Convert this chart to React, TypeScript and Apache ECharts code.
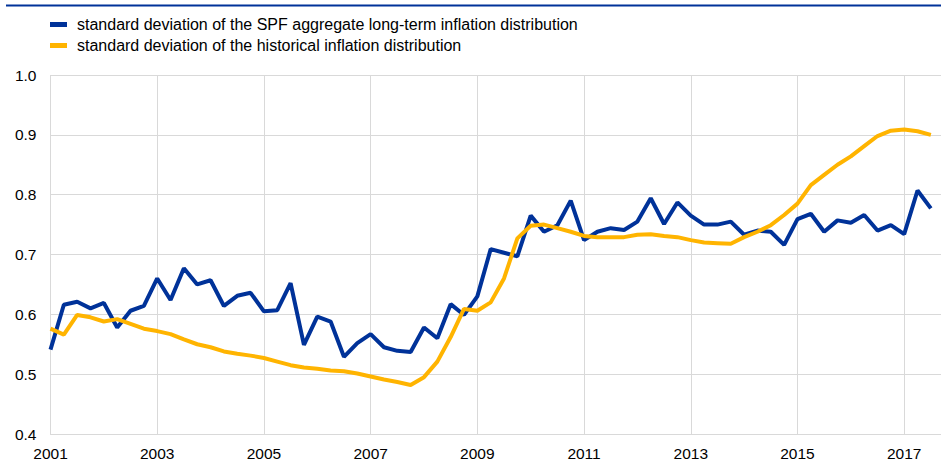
import React, { useEffect, useRef } from "react";
import * as echarts from "echarts";

const START_YEAR = 2001;
const N_QUARTERS = 67; // 2001Q1 .. 2017Q3
const quarters: string[] = [];
for (let i = 0; i < N_QUARTERS; i++) {
  quarters.push(`${START_YEAR + Math.floor(i / 4)}Q${(i % 4) + 1}`);
}

const spfStd = [
  0.541, 0.616, 0.621, 0.610, 0.619, 0.578, 0.606, 0.614,
  0.660, 0.624, 0.677, 0.650, 0.657, 0.614, 0.631, 0.636,
  0.605, 0.607, 0.652, 0.549, 0.596, 0.588, 0.529, 0.552,
  0.567, 0.545, 0.539, 0.537, 0.578, 0.560, 0.617, 0.599,
  0.630, 0.709, 0.703, 0.697, 0.765, 0.738, 0.749, 0.790,
  0.724, 0.738, 0.744, 0.741, 0.755, 0.794, 0.751, 0.787,
  0.765, 0.750, 0.750, 0.755, 0.733, 0.740, 0.738, 0.716,
  0.759, 0.768, 0.738, 0.757, 0.753, 0.766, 0.740, 0.749,
  0.734, 0.807, 0.777,
];

const histStd = [
  0.576, 0.566, 0.599, 0.595, 0.588, 0.592, 0.584, 0.576,
  0.572, 0.567, 0.558, 0.550, 0.545, 0.538, 0.534, 0.531,
  0.527, 0.521, 0.515, 0.511, 0.509, 0.506, 0.505, 0.501,
  0.496, 0.491, 0.487, 0.482, 0.495, 0.521, 0.562, 0.609,
  0.606, 0.620, 0.660, 0.727, 0.748, 0.750, 0.744, 0.738,
  0.731, 0.729, 0.729, 0.729, 0.733, 0.734, 0.731, 0.729,
  0.724, 0.720, 0.719, 0.718, 0.729, 0.738, 0.749, 0.766,
  0.785, 0.816, 0.833, 0.850, 0.864, 0.881, 0.898, 0.907,
  0.909, 0.906, 0.900,
];

const seriesNames = [
  "standard deviation of the SPF aggregate long-term inflation distribution",
  "standard deviation of the historical inflation distribution",
];

function quarterToOffset(q: string): number {
  const y = parseInt(q.slice(0, 4), 10);
  const qq = parseInt(q.slice(5), 10);
  return y - START_YEAR + (qq - 1) / 4;
}

const FONT = "'Liberation Sans', Arial, sans-serif";

export default function App() {
  const ref = useRef<HTMLDivElement>(null);
  useEffect(() => {
    if (!ref.current) return;
    const chart = echarts.init(ref.current, null, { renderer: "svg" });
    const toPairs = (vals: number[]) => quarters.map((q, i) => [quarterToOffset(q), vals[i]]);
    chart.setOption({
      animation: false,
      textStyle: { fontFamily: FONT },
      graphic: [
        {
          type: "line",
          shape: { x1: 6, y1: 5.5, x2: 941, y2: 5.5 },
          style: { stroke: "#003299", lineWidth: 2 },
        },
      ],
      legend: {
        orient: "vertical",
        left: 45,
        top: 11.5,
        icon: "rect",
        itemWidth: 17,
        itemHeight: 5,
        itemGap: 5,
        textStyle: {
          fontSize: 16,
          lineHeight: 16,
          color: "#000",
          fontFamily: FONT,
          padding: [0, 0, 0, 5],
        },
        data: seriesNames,
      },
      grid: { left: 50.5, right: 0, top: 75, bottom: 41, containLabel: false },
      xAxis: {
        type: "value",
        min: 0,
        max: 16.69,
        interval: 2,
        axisLine: { show: true, lineStyle: { color: "#d9d9d9", width: 1 } },
        axisTick: { show: false },
        splitLine: { show: true, showMaxLine: false, lineStyle: { color: "#d9d9d9", width: 1 } },
        axisLabel: {
          showMaxLabel: false,
          margin: 11,
          fontSize: 15.5,
          color: "#000",
          fontFamily: FONT,
          formatter: (v: number) => (Math.abs(v - Math.round(v)) < 1e-6 ? String(START_YEAR + Math.round(v)) : ""),
        },
      },
      yAxis: {
        type: "value",
        min: 0.4,
        max: 1.0,
        interval: 0.1,
        axisLine: { show: false },
        axisTick: { show: false },
        splitLine: { show: true, lineStyle: { color: "#d9d9d9", width: 1 } },
        axisLabel: {
          margin: 14,
          fontSize: 15.5,
          color: "#000",
          fontFamily: FONT,
          formatter: (v: number) => v.toFixed(1),
        },
      },
      series: [
        {
          name: seriesNames[0],
          type: "line",
          data: toPairs(spfStd),
          symbol: "none",
          lineStyle: { color: "#003299", width: 4 },
          itemStyle: { color: "#003299" },
          z: 2,
        },
        {
          name: seriesNames[1],
          type: "line",
          data: toPairs(histStd),
          symbol: "none",
          lineStyle: { color: "#FFB400", width: 4 },
          itemStyle: { color: "#FFB400" },
          z: 3,
        },
      ],
    });
    return () => chart.dispose();
  }, []);
  return (
    <div
      ref={ref}
      style={{ position: "absolute", left: 0, top: 0, width: 941, height: 475, background: "#fff" }}
    />
  );
}
